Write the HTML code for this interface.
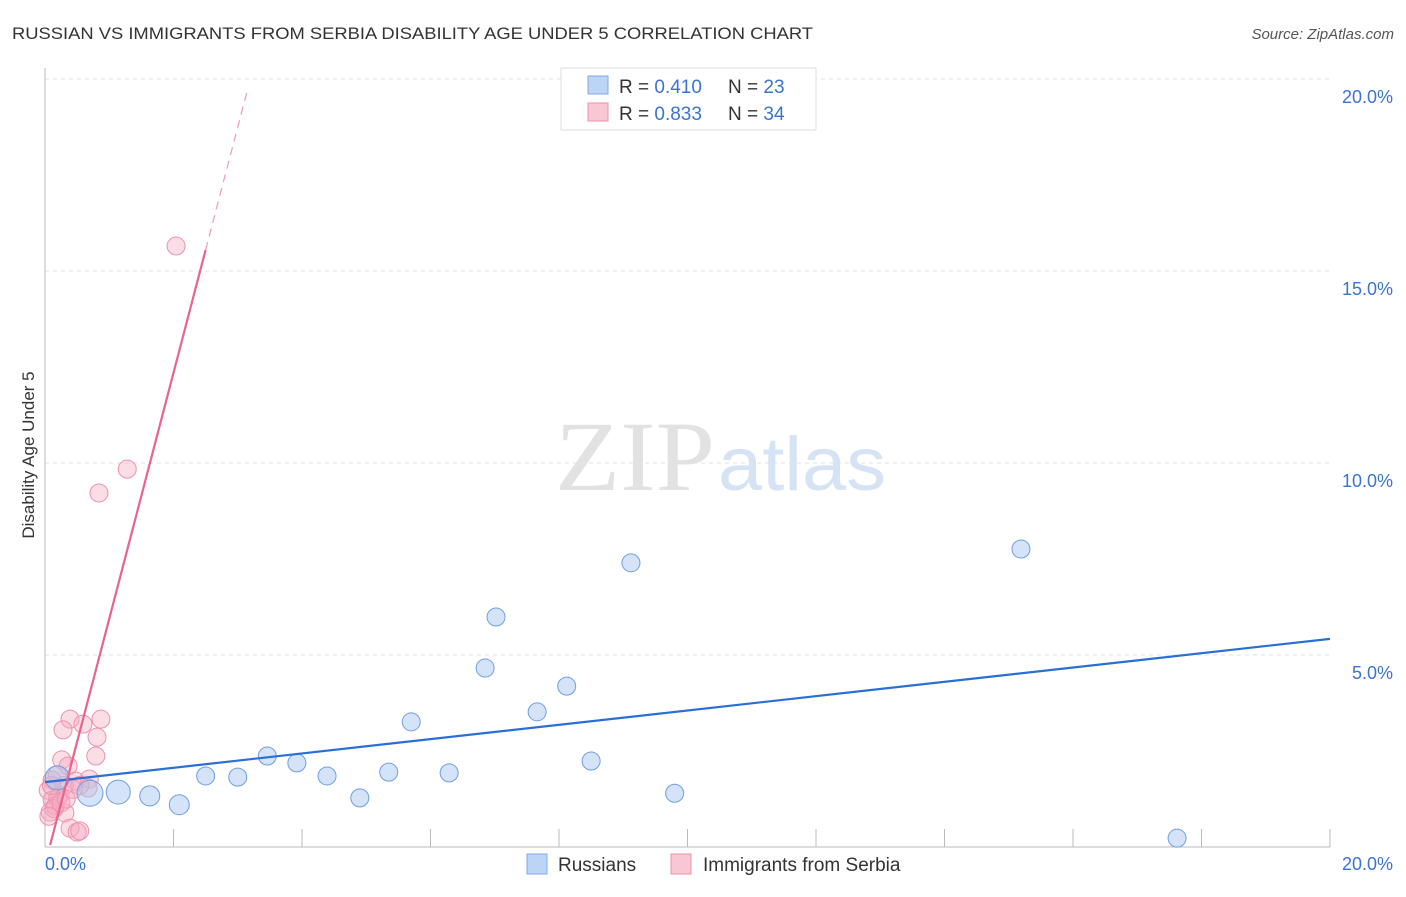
<!DOCTYPE html>
<html><head><meta charset="utf-8"><style>
body{margin:0;background:#fff;font-family:"Liberation Sans",sans-serif}
</style></head><body>
<svg width="1406" height="892" xmlns="http://www.w3.org/2000/svg" font-family="Liberation Sans, sans-serif">
<text x="12" y="39" font-size="17" fill="#333" textLength="801" lengthAdjust="spacingAndGlyphs">RUSSIAN VS IMMIGRANTS FROM SERBIA DISABILITY AGE UNDER 5 CORRELATION CHART</text>
<text x="1394" y="39" font-size="15" fill="#555" text-anchor="end" font-style="italic">Source: ZipAtlas.com</text>
<g id="grid"></g>
<text x="555" y="490" font-size="100" fill="#e2e2e2" textLength="160" lengthAdjust="spacingAndGlyphs" style="font-family:'Liberation Serif',serif">ZIP</text>
<text x="718" y="490" font-size="76" fill="#d6e3f5" textLength="168" lengthAdjust="spacingAndGlyphs">atlas</text>
<g id="axes"></g>
<g id="marks"></g>
<text transform="translate(34,455) rotate(-90)" font-size="17" fill="#333" text-anchor="middle">Disability Age Under 5</text>
<g>
<rect x="561" y="68" width="255" height="62" fill="#fff" stroke="#ddd"/>
<rect x="588" y="76" width="20" height="18" fill="#bcd4f6" stroke="#7fa8e6"/>
<text x="619" y="93" font-size="19" fill="#333">R = <tspan fill="#3b73d1">0.410</tspan></text>
<text x="728" y="93" font-size="19" fill="#333">N = <tspan fill="#3b73d1">23</tspan></text>
<rect x="588" y="103" width="20" height="18" fill="#f9c6d4" stroke="#ec92ad"/>
<text x="619" y="120" font-size="19" fill="#333">R = <tspan fill="#3b73d1">0.833</tspan></text>
<text x="728" y="120" font-size="19" fill="#333">N = <tspan fill="#3b73d1">34</tspan></text>
</g>
<g>
<rect x="527" y="854" width="20" height="20" fill="#bcd4f6" stroke="#7fa8e6"/>
<text x="558" y="871" font-size="19" fill="#333">Russians</text>
<rect x="671" y="854" width="20" height="20" fill="#f9c6d4" stroke="#ec92ad"/>
<text x="703" y="871" font-size="19" fill="#333">Immigrants from Serbia</text>
</g>
</svg>
<script>
const yTicks=[5,10,15,20];
const yTickLabels=["5.0%","10.0%","15.0%","20.0%"];
const xTickLabels=["0.0%","20.0%"];
const rusX=[0.19,0.7,1.14,1.63,2.09,2.5,3.0,3.46,3.92,4.39,4.9,5.35,5.7,6.29,6.85,7.02,7.66,8.12,8.5,9.12,9.8,15.19,17.62];
const rusY=[1.8,1.4,1.43,1.33,1.1,1.85,1.82,2.37,2.19,1.85,1.28,1.95,3.26,1.93,4.66,5.99,3.52,4.19,2.24,7.4,1.4,7.76,0.23];
const rusR=[12,13,12,10,10,9,9,9,9,9,9,9,9,9,9,9,9,9,9,9,9,9,9];
const serX=[2.04,1.28,0.84,0.39,0.59,0.87,0.28,0.81,0.79,0.26,0.36,0.19,0.11,0.47,0.69,0.05,0.23,0.11,0.16,0.08,0.31,0.39,0.5,0.54,0.67,0.3,0.54,0.2,0.14,0.06,0.25,0.44,0.1,0.33];
const serY=[15.65,9.84,9.22,3.33,3.2,3.33,3.05,2.86,2.37,2.27,2.11,1.88,1.74,1.72,1.77,1.48,1.35,1.22,1.07,0.91,0.89,0.49,0.39,0.42,1.54,1.6,1.6,1.3,1.0,0.8,1.15,1.5,1.6,1.25];
const rusLine=[[0,1.69],[20,5.42]];
const serLineSolid=[[0.08,0.05],[2.5,15.55]];
const serLineDash=[[2.5,15.55],[3.16,19.77]];
const NS="http://www.w3.org/2000/svg";
const X=v=>45+v/20*1285, Y=v=>847-v*38.4;
function mk(t,a,p){const e=document.createElementNS(NS,t);for(const k in a)e.setAttribute(k,a[k]);p.appendChild(e);return e;}
const grid=document.getElementById('grid'),axes=document.getElementById('axes'),marks=document.getElementById('marks');
yTicks.forEach((t,i)=>{
 const l=mk('line',{x1:45,x2:1330,y1:Y(t),y2:Y(t),stroke:'#e2e2e2','stroke-dasharray':'4,4'},grid);
 
 
 const tx=mk('text',{x:1393,y:Y(t)+24,'font-size':18,fill:'#3b73d1','text-anchor':'end'},axes);
 tx.textContent=yTickLabels[i];
 
 
});
let a=mk('line',{x1:45,x2:45,y1:68,y2:847,stroke:'#bbb'},axes);


a=mk('line',{x1:45,x2:1330,y1:847,y2:847,stroke:'#bbb'},axes);


for(let i=1;i<=10;i++){const t=mk('line',{x1:X(i*2),x2:X(i*2),y1:829,y2:847,stroke:'#bbb'},axes);
 
 }
[[0,'start',45],[20,'end',1393]].forEach((d,i)=>{const t=mk('text',{x:d[2],y:870,'font-size':18,fill:'#3b73d1','text-anchor':d[1]},axes);t.textContent=xTickLabels[i];
 
 });
serX.forEach((v,i)=>{const c=mk('circle',{cx:X(v),cy:Y(serY[i]),r:9,fill:'rgba(246,170,192,0.4)',stroke:'#ec92ad','stroke-width':1},marks);
 
 });
rusX.forEach((v,i)=>{const c=mk('circle',{cx:X(v),cy:Y(rusY[i]),r:rusR[i],fill:'rgba(170,200,240,0.5)',stroke:'#6f9ee0','stroke-width':1},marks);
 
 });
let ln=mk('line',{x1:X(rusLine[0][0]),y1:Y(rusLine[0][1]),x2:X(rusLine[1][0]),y2:Y(rusLine[1][1]),stroke:'#2a6fd6','stroke-width':2.2},marks);


ln=mk('line',{x1:X(serLineSolid[0][0]),y1:Y(serLineSolid[0][1]),x2:X(serLineSolid[1][0]),y2:Y(serLineSolid[1][1]),stroke:'#e8648e','stroke-width':2.2},marks);


ln=mk('line',{x1:X(serLineDash[0][0]),y1:Y(serLineDash[0][1]),x2:X(serLineDash[1][0]),y2:Y(serLineDash[1][1]),stroke:'#ef9ab4','stroke-width':1.2,'stroke-dasharray':'8,6'},marks);


</script>
</body></html>
